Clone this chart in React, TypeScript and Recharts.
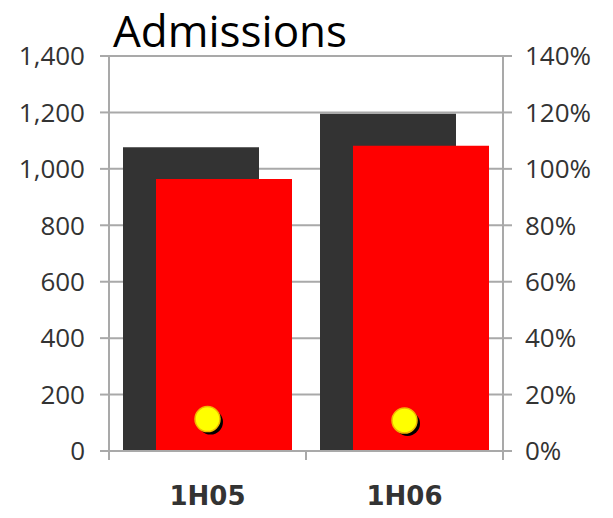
import React from "react";
import {
  ComposedChart,
  Bar,
  Line,
  XAxis,
  YAxis,
  CartesianGrid,
} from "recharts";

const periods = ["1H05", "1H06"];
const admissionsPrior = [1077, 1195];
const admissionsCurrent = [964, 1082];
const growthRate = [0.113, 0.108];

const countTicks = [0, 200, 400, 600, 800, 1000, 1200, 1400];
const pctTicks = [0, 0.2, 0.4, 0.6, 0.8, 1.0, 1.2, 1.4];

const WIDTH = 613;
const HEIGHT = 518;
const LEFT_AXIS_W = 109;
const RIGHT_AXIS_W = 110;
const TOP = 56;
const X_AXIS_H = 67;

const GRID = "#a9a9a9";
const TEXT = "#333333";

const data = periods.map((p, i) => ({
  period: p,
  prior: admissionsPrior[i],
  current: admissionsCurrent[i],
  pct: growthRate[i],
}));

// half of one category band, used for the boundary tick marks
const HALF_BAND = (WIDTH - LEFT_AXIS_W - RIGHT_AXIS_W) / periods.length / 2;

function PeriodTick(props: any) {
  const { x, y, payload, index } = props;
  const marks = index === 0 ? [x - HALF_BAND, x + HALF_BAND] : [x + HALF_BAND];
  return (
    <g>
      {marks.map((mx: number) => (
        <line key={mx} x1={mx} x2={mx} y1={y} y2={y + 9} stroke={GRID} strokeWidth={2} />
      ))}
      <text
        x={x}
        y={y + 54}
        textAnchor="middle"
        fill={TEXT}
        fontFamily="DejaVu Sans"
        fontWeight="bold"
        fontSize={26}
      >
        {payload.value}
      </text>
    </g>
  );
}

function GrowthDot(props: any) {
  const { cx, cy } = props;
  if (cx == null || cy == null) return null;
  return (
    <g>
      <circle cx={cx + 3} cy={cy + 3} r={12.5} fill="#000000" />
      <circle cx={cx} cy={cy} r={12.5} fill="#ffff00" stroke="#f2b600" strokeWidth={1.5} />
    </g>
  );
}

const tickStyle = { fill: TEXT, fontSize: 26, fontFamily: "Open Sans" };

export default function App() {
  return (
    <div style={{ position: "absolute", left: 0, top: 0, width: WIDTH, height: HEIGHT, background: "#fff" }}>
      <div
        style={{
          position: "absolute",
          left: 113,
          top: 0,
          fontFamily: "Open Sans",
          fontSize: 44,
          color: "#000",
          whiteSpace: "nowrap",
        }}
      >
        Admissions
      </div>
      <ComposedChart
        width={WIDTH}
        height={HEIGHT}
        data={data}
        margin={{ top: TOP, right: 0, bottom: 0, left: 0 }}
        barGap={-103}
      >
        <CartesianGrid vertical={false} stroke={GRID} strokeWidth={2} yAxisId="count" />
        <XAxis
          dataKey="period"
          height={X_AXIS_H}
          axisLine={{ stroke: GRID, strokeWidth: 2 }}
          tickLine={false}
          tickSize={0}
          tickMargin={0}
          tick={<PeriodTick />}
          interval={0}
        />
        <YAxis
          yAxisId="count"
          orientation="left"
          width={LEFT_AXIS_W}
          domain={[0, 1400]}
          ticks={countTicks}
          tickFormatter={(v: number) => v.toLocaleString("en-US")}
          tick={tickStyle}
          tickSize={9}
          tickMargin={15}
          axisLine={{ stroke: GRID, strokeWidth: 2 }}
          tickLine={{ stroke: GRID, strokeWidth: 2 }}
        />
        <YAxis
          yAxisId="pct"
          orientation="right"
          width={RIGHT_AXIS_W}
          domain={[0, 1.4]}
          ticks={pctTicks}
          tickFormatter={(v: number) => `${Math.round(v * 100)}%`}
          tick={tickStyle}
          tickSize={9}
          tickMargin={13}
          axisLine={{ stroke: GRID, strokeWidth: 2 }}
          tickLine={{ stroke: GRID, strokeWidth: 2 }}
        />
        <Bar
          yAxisId="count"
          dataKey="prior"
          fill="#333333"
          barSize={136}
          isAnimationActive={false}
        />
        <Bar
          yAxisId="count"
          dataKey="current"
          fill="#ff0000"
          barSize={136}
          isAnimationActive={false}
        />
        <Line
          yAxisId="pct"
          dataKey="pct"
          stroke="none"
          dot={<GrowthDot />}
          activeDot={false}
          isAnimationActive={false}
        />
      </ComposedChart>
    </div>
  );
}
